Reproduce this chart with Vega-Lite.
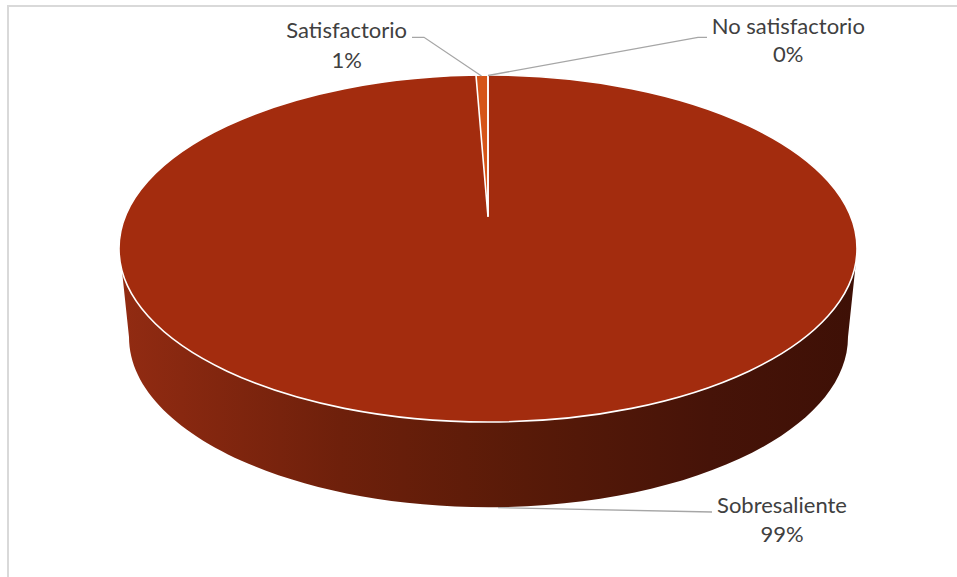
{
  "$schema": "https://vega.github.io/schema/vega-lite/v6.json",
  "width": 953,
  "height": 575,
  "autosize": "none",
  "padding": {"left": 8, "top": 6, "right": -4, "bottom": -4},
  "background": "white",
  "config": {
    "view": {"stroke": "#D9D9D9", "strokeWidth": 2},
    "axis": {"disable": true},
    "legend": {"disable": true},
    "text": {"font": "Lato", "fontSize": 22, "fill": "#404040", "align": "center", "baseline": "alphabetic"}
  },
  "data": {
    "values": [
      {"categoria": "Sobresaliente", "proporcion": 0.99},
      {"categoria": "Satisfactorio", "proporcion": 0.01},
      {"categoria": "No satisfactorio", "proporcion": 0.0}
    ]
  },
  "resolve": {"scale": {"shape": "independent", "color": "independent"}},
  "layer": [
    {
      "transform": [{"filter": "datum.categoria === 'Sobresaliente'"}],
      "mark": {
        "type": "point",
        "filled": true,
        "opacity": 1,
        "size": 4,
        "shape": "M -368 3.5 L -359 88.5 A 359 170 0 0 0 360 88.5 L 369 3.5 Z",
        "fill": {
          "gradient": "linear",
          "x1": 0, "y1": 0, "x2": 1, "y2": 0,
          "stops": [
            {"offset": 0, "color": "#922B12"},
            {"offset": 0.3, "color": "#6E200B"},
            {"offset": 0.55, "color": "#581A08"},
            {"offset": 0.8, "color": "#461308"},
            {"offset": 1, "color": "#3E1006"}
          ]
        },
        "strokeWidth": 0
      },
      "encoding": {
        "x": {"datum": 480, "type": "quantitative", "scale": {"domain": [0, 953], "nice": false, "zero": false}},
        "y": {"datum": 242.5, "type": "quantitative", "scale": {"domain": [0, 575], "nice": false, "zero": false, "reverse": true}}
      }
    },
    {
      "mark": {"type": "point", "filled": true, "opacity": 1, "size": 4, "stroke": "white", "strokeWidth": 1.6},
      "encoding": {
        "x": {"datum": 480, "type": "quantitative"},
        "y": {"datum": 242.5, "type": "quantitative"},
        "shape": {
          "field": "categoria",
          "type": "nominal",
          "scale": {
            "domain": ["Sobresaliente", "Satisfactorio", "No satisfactorio"],
            "range": [
              "M -369 0 A 369 173.5 0 1 0 369 0 A 369 173.5 0 1 0 -369 0 Z",
              "M 0 -31.8 L -12 -173.3 L 0 -173.5 Z",
              "M 0 -31.8 L 0 -173.5"
            ]
          }
        },
        "color": {
          "field": "categoria",
          "type": "nominal",
          "scale": {
            "domain": ["Sobresaliente", "Satisfactorio", "No satisfactorio"],
            "range": ["#A32C0E", "#D55418", "#6E1E0A"]
          }
        }
      }
    },
    {
      "mark": {"type": "point", "filled": false, "opacity": 1, "size": 4, "color": "#A6A6A6", "strokeWidth": 1.3},
      "encoding": {
        "x": {"datum": 480, "type": "quantitative"},
        "y": {"datum": 242.5, "type": "quantitative"},
        "shape": {
          "field": "categoria",
          "type": "nominal",
          "scale": {
            "domain": ["Sobresaliente", "Satisfactorio", "No satisfactorio"],
            "range": [
              "M 10 259.2 L 224 263.5",
              "M -76 -211.2 L -64 -211.2 L -6.5 -172.5",
              "M 219 -211.2 L 210 -211.2 L 0 -173"
            ]
          }
        }
      }
    },
    {
      "transform": [{"filter": "datum.categoria === 'Satisfactorio'"}],
      "encoding": {
        "x": {"datum": 338.7, "type": "quantitative"},
        "y": {"datum": 32.3, "type": "quantitative"}
      },
      "layer": [
        {"mark": {"type": "text"}, "encoding": {"text": {"field": "categoria"}}},
        {"mark": {"type": "text", "dy": 30}, "encoding": {"text": {"field": "proporcion", "type": "quantitative", "format": ".0%"}}}
      ]
    },
    {
      "transform": [{"filter": "datum.categoria === 'No satisfactorio'"}],
      "encoding": {
        "x": {"datum": 780.3, "type": "quantitative"},
        "y": {"datum": 27.5, "type": "quantitative"}
      },
      "layer": [
        {"mark": {"type": "text"}, "encoding": {"text": {"field": "categoria"}}},
        {"mark": {"type": "text", "dy": 28.8}, "encoding": {"text": {"field": "proporcion", "type": "quantitative", "format": ".0%"}}}
      ]
    },
    {
      "transform": [{"filter": "datum.categoria === 'Sobresaliente'"}],
      "encoding": {
        "x": {"datum": 774, "type": "quantitative"},
        "y": {"datum": 506.6, "type": "quantitative"}
      },
      "layer": [
        {"mark": {"type": "text"}, "encoding": {"text": {"field": "categoria"}}},
        {"mark": {"type": "text", "dy": 29.6}, "encoding": {"text": {"field": "proporcion", "type": "quantitative", "format": ".0%"}}}
      ]
    }
  ]
}
